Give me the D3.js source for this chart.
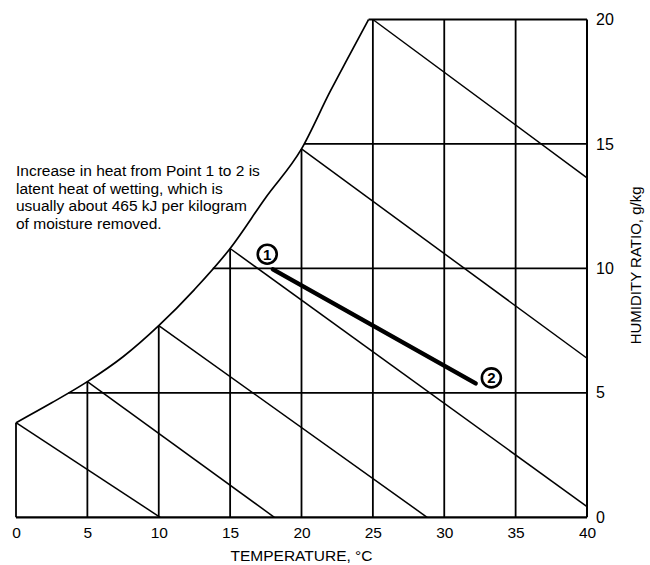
<!DOCTYPE html>
<html>
<head>
<meta charset="utf-8">
<script src="https://cdn.jsdelivr.net/npm/d3@7"></script>
<style>
  html, body { margin: 0; padding: 0; background: #fff; }
  svg { display: block; font-family: "Liberation Sans", Arial, sans-serif; }
  .tick text { font-family: "Liberation Sans", Arial, sans-serif; fill: #000; }
</style>
</head>
<body>
<svg id="chart" width="650" height="565"></svg>
<script>
// ---- data ----
const xTicks = [0, 5, 10, 15, 20, 25, 30, 35, 40];
const yTicks = [0, 5, 10, 15, 20];
// saturation curve (temperature °C, humidity ratio g/kg)
const satTemp = [0, 2.5, 5, 7.5, 10, 12.5, 15, 17.5, 20, 22, 23.2, 24.7];
const satRatio = [3.8, 4.6, 5.45, 6.45, 7.7, 9.15, 10.8, 12.85, 14.8, 17.1, 18.4, 20.0];
// grid: vertical dry-bulb lines and horizontal humidity lines
const vLineTemps = [0, 5, 10, 15, 20, 25, 30, 35, 40];
const hLineRatios = [5, 10, 15, 20];
// wet-bulb (constant enthalpy) lines: start on saturation curve, end point
const wbStartTemp = [0, 5, 10, 15, 20, 25];
const wbEndTemp = [10.1, 18.1, 28.8, 40, 40, 40];
const wbEndRatio = [0, 0, 0, 0.43, 6.39, 13.64];
// process line from Point 1 to Point 2
const processTemp = [18.0, 32.2];
const processRatio = [9.96, 5.38];
const pointLabels = ["1", "2"];
const pointLabelTemp = [17.6, 33.3];
const pointLabelRatio = [10.57, 5.6];
const noteLines = [
  "Increase in heat from Point 1 to 2 is",
  "latent heat of wetting, which is",
  "usually about 465 kJ per kilogram",
  "of moisture removed."
];
const xTitle = "TEMPERATURE, °C";
const yTitle = "HUMIDITY RATIO, g/kg";

// ---- drawing ----
const svg = d3.select("#chart");
const x = d3.scaleLinear().domain([0, 40]).range([16, 587]);
const y = d3.scaleLinear().domain([0, 20]).range([517.3, 19.5]);

// saturation value lookup (piecewise between read points)
const satAt = d3.scaleLinear().domain(satTemp).range(satRatio).clamp(true);
const tempAt = d3.scaleLinear().domain(satRatio).range(satTemp).clamp(true);

const g = svg.append("g");

// saturation curve
const satData = satTemp.map((t, i) => [t, satRatio[i]]);
g.append("path")
  .datum(satData)
  .attr("fill", "none")
  .attr("stroke", "#000")
  .attr("stroke-width", 1.7)
  .attr("d", d3.line().x(d => x(d[0])).y(d => y(d[1])).curve(d3.curveMonotoneX));

// vertical lines
g.selectAll("line.v").data(vLineTemps).enter().append("line")
  .attr("class", "v")
  .attr("x1", d => x(d)).attr("x2", d => x(d))
  .attr("y1", y(0))
  .attr("y2", d => y(d >= 25 ? 20 : satAt(d)))
  .attr("stroke", "#000").attr("stroke-width", d => d === 40 ? 2 : 1.8);

// horizontal lines (including the bottom axis line)
const hAll = [0].concat(hLineRatios);
g.selectAll("line.h").data(hAll).enter().append("line")
  .attr("class", "h")
  .attr("x1", d => x(d === 0 ? 0 : tempAt(d)))
  .attr("x2", x(40))
  .attr("y1", d => y(d)).attr("y2", d => y(d))
  .attr("stroke", "#000").attr("stroke-width", d => d === 0 ? 2.2 : 1.8);

// wet-bulb lines
g.selectAll("line.wb").data(wbStartTemp).enter().append("line")
  .attr("class", "wb")
  .attr("x1", d => x(d)).attr("y1", d => y(d === 25 ? 20 : satAt(d)))
  .attr("x2", (d, i) => x(wbEndTemp[i]))
  .attr("y2", (d, i) => y(wbEndRatio[i]))
  .attr("stroke", "#000").attr("stroke-width", 1.5);

// process line
g.append("line")
  .attr("x1", x(processTemp[0])).attr("y1", y(processRatio[0]))
  .attr("x2", x(processTemp[1])).attr("y2", y(processRatio[1]))
  .attr("stroke", "#000").attr("stroke-width", 4.5).attr("stroke-linecap", "round");

// point markers
const pts = g.selectAll("g.pt").data(pointLabels).enter().append("g")
  .attr("class", "pt")
  .attr("transform", (d, i) => `translate(${x(pointLabelTemp[i])},${y(pointLabelRatio[i])})`);
pts.append("circle").attr("r", 9.5).attr("fill", "#fff")
  .attr("stroke", "#000").attr("stroke-width", 2.6);
pts.append("text").text(d => d)
  .attr("text-anchor", "middle").attr("dy", "0.36em")
  .attr("font-size", 15).attr("font-weight", "bold").attr("fill", "#000");

// axes
const xAxis = svg.append("g")
  .attr("transform", `translate(0,${y(0)})`)
  .call(d3.axisBottom(x).tickValues(xTicks).tickSize(0).tickPadding(10).tickFormat(d3.format("d")));
xAxis.select(".domain").remove();
xAxis.selectAll("text").attr("font-size", 15.5).attr("dy", "0.71em");

const yAxis = svg.append("g")
  .attr("transform", `translate(${x(40)},0)`)
  .call(d3.axisRight(y).tickValues(yTicks).tickSize(0).tickPadding(9).tickFormat(d3.format("d")));
yAxis.select(".domain").remove();
yAxis.selectAll("text").attr("font-size", 16);

// axis titles
svg.append("text")
  .attr("x", x(20)).attr("y", 561)
  .attr("text-anchor", "middle")
  .attr("font-size", 15.5).attr("fill", "#000")
  .text(xTitle);
svg.append("text")
  .attr("transform", `translate(641,${y(10) - 3}) rotate(-90)`)
  .attr("text-anchor", "middle")
  .attr("font-size", 15).attr("fill", "#000")
  .text(yTitle);

// note
svg.append("text")
  .attr("font-size", 15.5).attr("fill", "#000")
  .selectAll("tspan").data(noteLines).enter().append("tspan")
  .attr("x", 16).attr("y", (d, i) => 176 + i * 17.7)
  .text(d => d);
</script>
</body>
</html>
